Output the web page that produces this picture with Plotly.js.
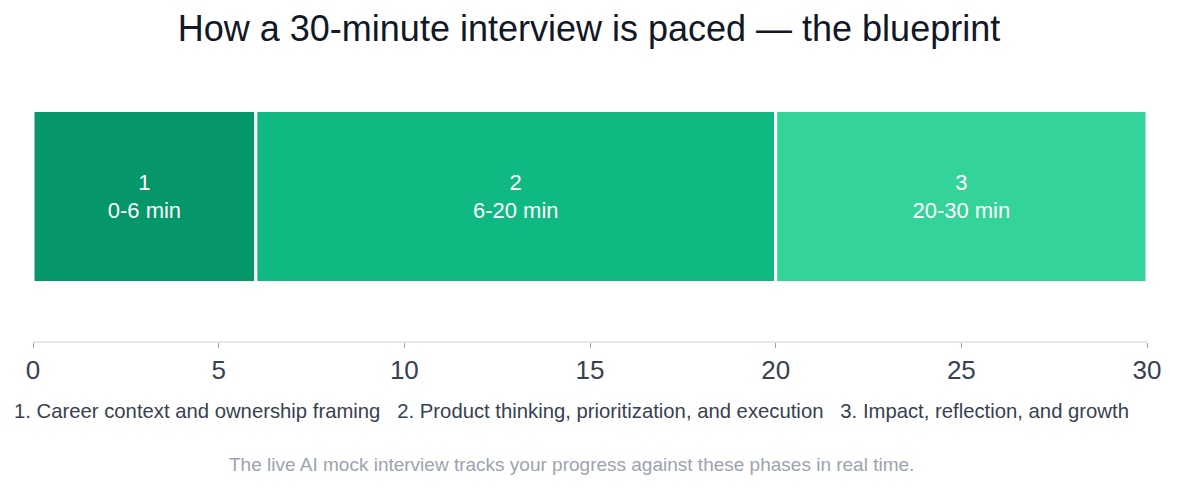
<!DOCTYPE html>
<html>
<head>
<meta charset="utf-8">
<script src="https://cdn.plot.ly/plotly-3.0.1.min.js"></script>
<style>html,body{margin:0;padding:0;background:#fff;}#chart{width:1178px;height:490px;}</style>
</head>
<body>
<div id="chart"></div>
<script>
var phases = ["1", "2", "3"];
var phaseStarts = [0, 6, 20];
var phaseDurations = [6, 14, 10];
var phaseRanges = ["0-6 min", "6-20 min", "20-30 min"];
var phaseNames = ["Career context and ownership framing", "Product thinking, prioritization, and execution", "Impact, reflection, and growth"];
var phaseColors = ["#059669", "#10b981", "#34d399"];
var tickValues = [0, 5, 10, 15, 20, 25, 30];
var titleText = "How a 30-minute interview is paced — the blueprint";
var footnote = "The live AI mock interview tracks your progress against these phases in real time.";

var FONT = "Liberation Sans, Arial, Helvetica, sans-serif";

var trace = {
  type: "bar",
  orientation: "h",
  y: phases.map(function(){ return 0; }),
  x: phaseDurations,
  base: phaseStarts,
  width: 1,
  text: phases.map(function(p, i){ return p + "<br>" + phaseRanges[i]; }),
  textposition: "inside",
  insidetextanchor: "middle",
  textfont: {color: "#ffffff", size: 22, family: FONT},
  marker: {color: phaseColors, line: {color: "#ffffff", width: 3}},
  hoverinfo: "none",
  showlegend: false
};

var legendText = phaseNames.map(function(n, i){ return phases[i] + ". " + n; }).join("   ");

var layout = {
  width: 1178, height: 490,
  margin: {l: 33, r: 31, t: 80, b: 149},
  paper_bgcolor: "#ffffff", plot_bgcolor: "#ffffff",
  font: {family: FONT, color: "#374151"},
  title: {text: titleText, font: {size: 36, color: "#111827", family: FONT}, x: 0.5, xanchor: "center", y: 0.943, yanchor: "middle"},
  xaxis: {
    range: [0, 30], tickvals: tickValues, ticks: "outside", ticklen: 5, tickwidth: 1, tickcolor: "#9ca3af",
    showline: true, linecolor: "#e5e7eb", linewidth: 2, showgrid: false, zeroline: false,
    tickfont: {size: 26, color: "#374151", family: FONT}, fixedrange: true
  },
  yaxis: {range: [-0.84, 0.677], visible: false, showgrid: false, zeroline: false, fixedrange: true},
  bargap: 0,
  annotations: [
    {text: legendText, xref: "paper", yref: "paper", x: 0.4838, y: -0.268, xanchor: "center", yanchor: "middle", showarrow: false, font: {size: 20.3, color: "#374151", family: FONT}},
    {text: footnote, xref: "paper", yref: "paper", x: 0.4838, y: -0.475, xanchor: "center", yanchor: "middle", showarrow: false, font: {size: 19, color: "#9ca3af", family: FONT}}
  ]
};

Plotly.newPlot("chart", [trace], layout, {displayModeBar: false, staticPlot: true});
</script>
</body>
</html>
